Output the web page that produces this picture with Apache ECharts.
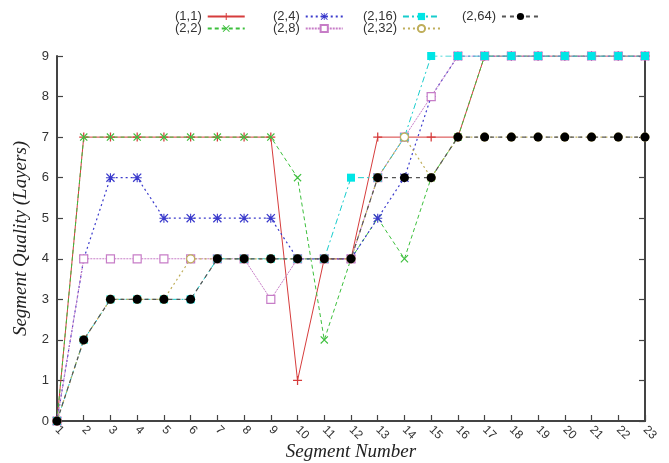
<!DOCTYPE html>
<html>
<head>
<meta charset="utf-8">
<script src="https://cdn.jsdelivr.net/npm/echarts@6/dist/echarts.min.js"></script>
<style>html,body{margin:0;padding:0;background:#fff}#c{width:669px;height:463px}</style>
</head>
<body>
<div id="c"></div>
<script>
// ---- data ----
const segments = [1,2,3,4,5,6,7,8,9,10,11,12,13,14,15,16,17,18,19,20,21,22,23];
const yTicks = [0,1,2,3,4,5,6,7,8,9];
const seriesNames = ['(1,1)','(2,2)','(2,4)','(2,8)','(2,16)','(2,32)','(2,64)'];
const q11  = [0,7,7,7,7,7,7,7,7,1,4,4,7,7,7,7,9,9,9,9,9,9,9];
const q22  = [0,7,7,7,7,7,7,7,7,6,2,4,5,4,6,7,9,9,9,9,9,9,9];
const q24  = [0,4,6,6,5,5,5,5,5,4,4,4,5,6,8,9,9,9,9,9,9,9,9];
const q28  = [0,4,4,4,4,4,4,4,3,4,4,4,6,7,8,9,9,9,9,9,9,9,9];
const q216 = [0,2,3,3,3,3,4,4,4,4,4,6,6,7,9,9,9,9,9,9,9,9,9];
const q232 = [0,2,3,3,3,4,4,4,4,4,4,4,6,7,6,7,7,7,7,7,7,7,7];
const q264 = [0,2,3,3,3,3,4,4,4,4,4,4,6,6,6,7,7,7,7,7,7,7,7];
const values = [q11,q22,q24,q28,q216,q232,q264];

// ---- styles ----
const PLUS = 'path://M4.3,0h1.4v4.3h4.3v1.4h-4.3v4.3h-1.4v-4.3h-4.3v-1.4h4.3z';
const CROSS = 'path://M1,0L5,4L9,0L10,1L6,5L10,9L9,10L5,6L1,10L0,9L4,5L0,1Z';
const STAR = 'path://M1,0L5,4L9,0L10,1L6,5L10,9L9,10L5,6L1,10L0,9L4,5L0,1Z M4.4,0h1.2v4.4h4.4v1.2h-4.4v4.4h-1.2v-4.4h-4.4v-1.2h4.4z';
const styles = [
  {color:'#d63c3c', type:'solid', width:1, symbol:PLUS, size:9, fill:'#d63c3c', border:0},
  {color:'#3cbf3c', type:[4,3], width:1, symbol:CROSS, size:8, fill:'#3cbf3c', border:0},
  {color:'#3a3acc', type:[2,3], width:1.2, symbol:STAR, size:9, fill:'#3a3acc', border:0},
  {color:'#c77dc7', type:[2,1], width:1, symbol:'rect', size:8, fill:'#ffffff', border:1.2},
  {color:'#18cccc', type:[6,3,2,3], width:1, symbol:'rect', size:8, fill:'#00e5e5', border:0},
  {color:'#bfae5a', type:[2,3], width:1.2, symbol:'circle', size:8, fill:'#ffffff', border:1.2},
  {color:'#555555', type:[4,4], width:1.2, symbol:'circle', size:9, fill:'#000000', border:0}
];

const legendPos = [
  {left:175, top:10}, {left:175, top:22},
  {left:273, top:10}, {left:273, top:22},
  {left:363, top:10}, {left:363, top:22},
  {left:462, top:10}
];

const series = seriesNames.map((name, i) => {
  const st = styles[i];
  return {
    name: name,
    type: 'line',
    data: segments.map((s, k) => [s, values[i][k]]),
    symbol: st.symbol,
    symbolSize: st.size,
    showAllSymbol: true,
    lineStyle: {color: st.color, type: st.type, width: st.width},
    itemStyle: {color: st.fill, borderColor: st.color, borderWidth: st.border},
    z: 2 + i,
    animation: false
  };
});

const legends = seriesNames.map((name, i) => ({
  data: [name],
  left: legendPos[i].left,
  top: legendPos[i].top,
  align: 'right',
  itemWidth: 37,
  itemHeight: 9,
  padding: 0,
  selectedMode: false,
  textStyle: {fontFamily: 'Liberation Sans', fontSize: 13, color: '#333', padding: [0, 1, 0, 0]}
}));

const chart = echarts.init(document.getElementById('c'), null, {renderer: 'canvas'});
chart.setOption({
  animation: false,
  backgroundColor: '#fff',
  legend: legends,
  grid: {left: 57, right: 24, top: 56, bottom: 42, containLabel: false, outerBoundsMode: 'none'},
  xAxis: [{
    type: 'value', min: 1, max: 23, interval: 1,
    name: 'Segment Number', nameLocation: 'middle', nameGap: 21, nameMoveOverlap: false,
    nameTextStyle: {fontFamily: 'Liberation Serif', fontStyle: 'italic', fontSize: 19, color: '#222'},
    axisLine: {lineStyle: {color: '#444', width: 2}},
    axisTick: {inside: true, length: 6, lineStyle: {color: '#444', width: 1.2}},
    axisLabel: {rotate: -45, margin: 7, fontFamily: 'Liberation Sans', fontSize: 12, color: '#333',
      formatter: v => String(segments[segments.indexOf(v)])},
    splitLine: {show: false}
  }, {
    type: 'value', position: 'top', min: 1, max: 23,
    axisLine: {show: true, lineStyle: {color: '#444', width: 2}},
    axisTick: {show: false}, axisLabel: {show: false}, splitLine: {show: false}
  }],
  yAxis: [{
    type: 'value', min: 0, max: 9, interval: 1,
    name: 'Segment Quality (Layers)', nameLocation: 'middle', nameGap: 27, nameMoveOverlap: false,
    nameTextStyle: {fontFamily: 'Liberation Serif', fontStyle: 'italic', fontSize: 19, color: '#222'},
    axisLine: {show: true, lineStyle: {color: '#444', width: 2}},
    axisTick: {show: true, inside: true, length: 6, lineStyle: {color: '#444', width: 1.2}},
    axisLabel: {margin: 8, fontFamily: 'Liberation Sans', fontSize: 13, color: '#333',
      formatter: v => String(yTicks[yTicks.indexOf(v)])},
    splitLine: {show: false}
  }, {
    type: 'value', position: 'right', min: 0, max: 9, interval: 1,
    axisLine: {show: true, lineStyle: {color: '#444', width: 2}},
    axisTick: {show: true, inside: true, length: 6, lineStyle: {color: '#444', width: 1.2}},
    axisLabel: {show: false}, splitLine: {show: false}
  }],
  series: series
});
</script>
</body>
</html>
